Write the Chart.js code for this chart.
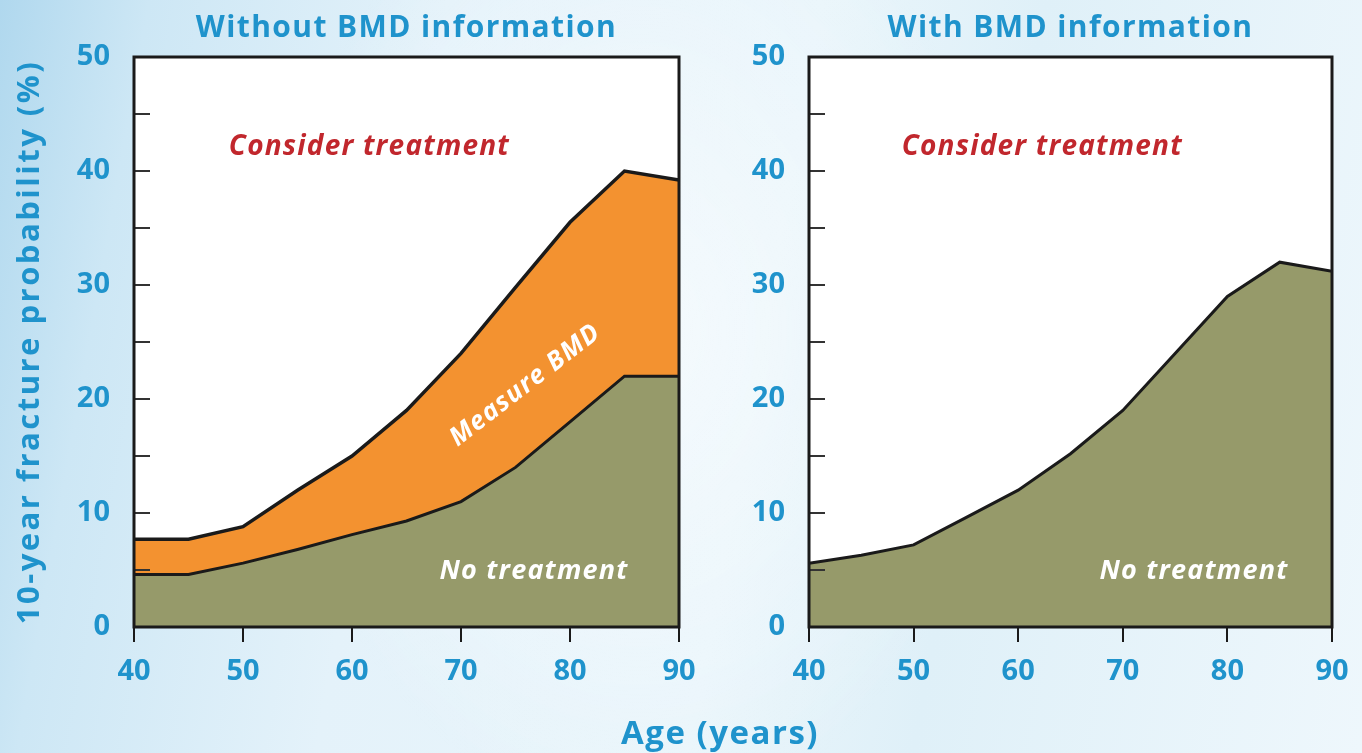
<!DOCTYPE html>
<html lang="en">
<head>
  <meta charset="UTF-8" />
  <title>10-year fracture probability by age</title>
  <script src="https://cdn.jsdelivr.net/npm/chart.js"></script>
  <style>
    body {
      margin: 0;
      width: 1362px;
      height: 753px;
      overflow: hidden;
      font-family: "Open Sans", sans-serif;
      background:
        radial-gradient(ellipse 520px 700px at 640px 330px, rgba(255,255,255,0.55), rgba(255,255,255,0) 70%),
        linear-gradient(100deg, #b0d8ee 0%, #cde7f5 10%, #e4f2fa 30%, #e9f5fb 55%, #dff0f8 70%, #eef7fc 100%);
    }
    .panel { position: absolute; top: 0; height: 753px; }
    #left { left: 0; width: 710px; }
    #right { left: 690px; width: 672px; }
    #ageTitle {
      position: absolute; left: 520px; width: 400px; top: 709px;
      text-align: center; font-weight: bold; font-size: 33px; letter-spacing: 1.5px; color: #1f93cc;
    }
  </style>
</head>
<body>
  <div class="panel" id="left"><canvas id="chartWithout"></canvas></div>
  <div class="panel" id="right"><canvas id="chartWith"></canvas></div>
  <div id="ageTitle">Age (years)</div>

  <script>
    // data
    const ages = [40, 45, 50, 55, 60, 65, 70, 75, 80, 85, 90];
    const noTreatWithout = [4.6, 4.6, 5.6, 6.8, 8.1, 9.3, 11, 14, 18, 22, 22];
    const measureWithout = [7.7, 7.7, 8.8, 12, 15, 19, 24, 29.8, 35.5, 40, 39.2];
    const noTreatWith = [5.6, 6.3, 7.2, 9.6, 12, 15.2, 19, 24, 29, 32, 31.2];
    const yTicks = [0, 10, 20, 30, 40, 50];

    const BLUE = '#1f93cc';
    const RED = '#c1272d';
    const GREEN = '#969a6a';
    const ORANGE = '#f39230';
    const LINE = '#1a1a1a';
    const FONT = '"Open Sans", sans-serif';

    const pts = arr => ages.map((a, i) => ({ x: a, y: arr[i] }));

    function drawText(ctx, text, x, y, font, color, angle, spacing) {
      ctx.save();
      ctx.translate(x, y);
      if (angle) ctx.rotate(angle * Math.PI / 180);
      ctx.font = font;
      ctx.letterSpacing = (spacing || 0) + 'px';
      ctx.fillStyle = color;
      ctx.textAlign = 'center';
      ctx.textBaseline = 'middle';
      ctx.fillText(text, 0, 0);
      ctx.restore();
    }

    // white plot area, inner ticks, frame and text labels
    const panelDecor = {
      id: 'panelDecor',
      beforeDraw(chart) {
        const a = chart.chartArea, ctx = chart.ctx;
        ctx.save();
        ctx.fillStyle = '#ffffff';
        ctx.fillRect(a.left, a.top, a.right - a.left, a.bottom - a.top);
        ctx.restore();
      },
      afterDatasetsDraw(chart, args, opts) {
        const a = chart.chartArea, ctx = chart.ctx;
        const xs = chart.scales.x, ys = chart.scales.y;
        ctx.save();
        ctx.strokeStyle = '#333';
        ctx.lineWidth = 2;
        for (let v = 5; v < 50; v += 5) {
          const py = Math.round(ys.getPixelForValue(v));
          ctx.beginPath();
          ctx.moveTo(a.left, py);
          ctx.lineTo(a.left + 16, py);
          ctx.stroke();
        }
        ctx.strokeStyle = LINE;
        ctx.lineWidth = 3;
        ctx.strokeRect(a.left, a.top, a.right - a.left, a.bottom - a.top);
        ctx.restore();

        drawText(ctx, opts.title, (a.left + a.right) / 2, 28, 'bold 30px ' + FONT, BLUE, 0, 1.4);
        (opts.labels || []).forEach(l => {
          drawText(ctx, l.text, xs.getPixelForValue(l.x), ys.getPixelForValue(l.y),
            'italic bold ' + l.size + 'px ' + FONT, l.color, l.angle, 1.2);
        });
        if (opts.yTitle) {
          drawText(ctx, opts.yTitle, 30, (a.top + a.bottom) / 2, 'bold 31px ' + FONT, BLUE, -90, 2.5);
        }
      }
    };

    function makeChart(id, datasets, axisWidth, rightPad, decor) {
      return new Chart(document.getElementById(id), {
        type: 'line',
        data: { datasets },
        options: {
          responsive: true,
          maintainAspectRatio: false,
          animation: false,
          layout: { padding: { top: 57, right: rightPad, left: 0, bottom: 0 } },
          elements: { point: { radius: 0 }, line: { tension: 0 } },
          plugins: {
            legend: { display: false },
            tooltip: { enabled: false },
            panelDecor: decor
          },
          scales: {
            x: {
              type: 'linear', min: 40, max: 90,
              ticks: { stepSize: 10, autoSkip: false, maxRotation: 0, padding: 12,
                color: BLUE, font: { family: FONT, size: 29, weight: 'bold' } },
              grid: { drawOnChartArea: false, tickLength: 15, color: LINE, lineWidth: 2 },
              border: { display: false },
              afterFit(s) { s.height = 126; }
            },
            y: {
              min: 0, max: 50,
              ticks: { stepSize: 5, autoSkip: false, padding: 24,
                callback: v => yTicks.includes(v) ? v : '',
                color: BLUE, font: { family: FONT, size: 29, weight: 'bold' } },
              grid: { display: false, drawTicks: false },
              border: { display: false },
              afterFit(s) { s.width = axisWidth; }
            }
          }
        },
        plugins: [panelDecor]
      });
    }

    makeChart('chartWithout', [
      { data: pts(noTreatWithout), fill: 'origin', backgroundColor: GREEN, borderColor: LINE, borderWidth: 3 },
      { data: pts(measureWithout), fill: '-1', backgroundColor: ORANGE, borderColor: LINE, borderWidth: 3.5 }
    ], 134, 31, {
      title: 'Without BMD information',
      yTitle: '10-year fracture probability (%)',
      labels: [
        { text: 'Consider treatment', x: 61.6, y: 42.1, size: 28, color: RED },
        { text: 'Measure BMD', x: 75.9, y: 21.2, size: 26, color: '#ffffff', angle: -37.6 },
        { text: 'No treatment', x: 76.7, y: 4.9, size: 27, color: '#ffffff' }
      ]
    });

    makeChart('chartWith', [
      { data: pts(noTreatWith), fill: 'origin', backgroundColor: GREEN, borderColor: LINE, borderWidth: 3 }
    ], 119, 30, {
      title: 'With BMD information',
      labels: [
        { text: 'Consider treatment', x: 62.3, y: 42.1, size: 28, color: RED },
        { text: 'No treatment', x: 76.8, y: 4.9, size: 27, color: '#ffffff' }
      ]
    });
  </script>
</body>
</html>
